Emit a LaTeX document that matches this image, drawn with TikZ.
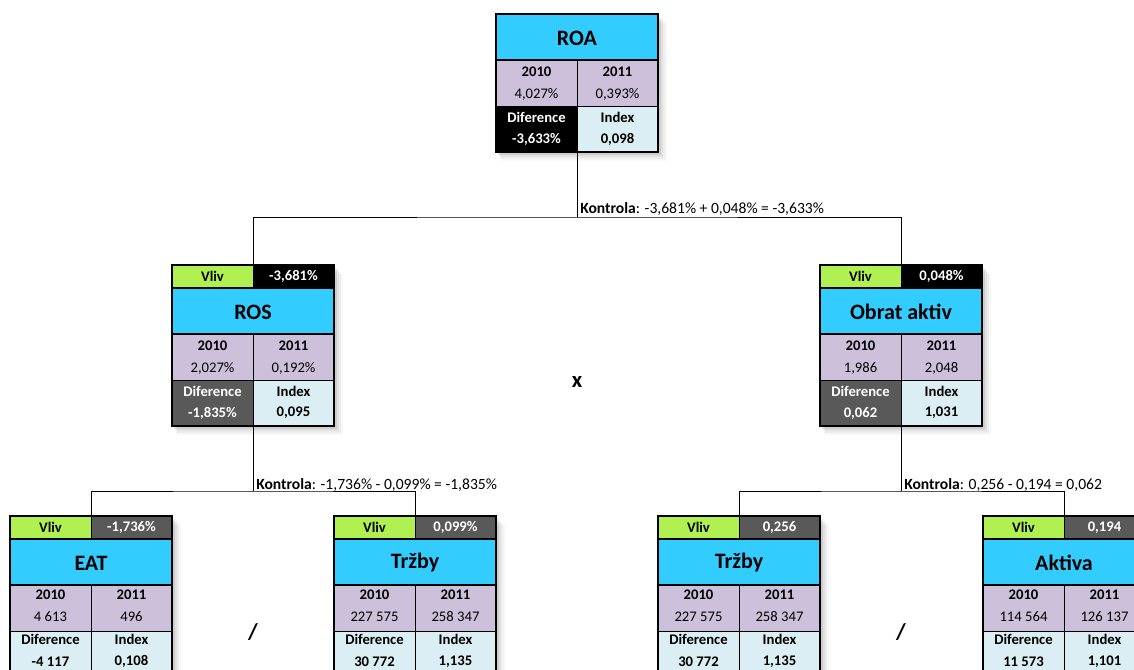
\documentclass[tikz,border=0pt]{standalone}
\usepackage{fontspec}
\setmainfont{Carlito}
\definecolor{titlec}{HTML}{33CCFF}
\definecolor{yearc}{HTML}{CCC0DA}
\definecolor{idxc}{HTML}{DAEEF3}
\definecolor{vlivc}{HTML}{B0F050}
\definecolor{darkc}{HTML}{595959}
\tikzset{
  thinline/.style={line width=0.6pt,black},
  thickline/.style={line width=1.3pt,black},
  outline/.style={line width=1.5pt,black},
  conn/.style={line width=0.7pt,black},
  titletext/.style={font=\fontsize{16.5}{18}\selectfont\bfseries,inner sep=0pt},
  lbl/.style={font=\fontsize{11}{12}\selectfont\bfseries,inner sep=0pt},
  val/.style={font=\fontsize{11}{12}\selectfont,inner sep=0pt},
  kframe/.style={inner sep=0pt,minimum width=121.5pt,minimum height=103.5pt},
  ctrl/.style={font=\fontsize{11.7}{13}\selectfont,inner sep=0pt,anchor=base west},
  sign/.style={font=\fontsize{17}{19}\selectfont\bfseries,inner sep=0pt},
  blackcell/.style={fill=black},
  blackcelltext/.style={text=white},
  darkcell/.style={fill=darkc},
  darkcelltext/.style={text=white},
  lightcell/.style={fill=idxc},
  lightcelltext/.style={text=black},
}
\def\vsh{0}
% shadow: cx, top, bottom
\newcommand\kshadow[3]{%
  \foreach \s/\o in {1/0.10,3/0.08,5/0.06,7/0.04,9/0.03}{%
    \fill[black,opacity=\o] (#1-81+\s*0.5,#2+\s) rectangle (#1+81+\s,#3+\s);}}
% box: name, cx, top, title, v2010, v2011, diff, index, diff style
\newcommand\kbox[9]{%
  \fill[titlec] (#2-81,#3) rectangle (#2+81,#3+46);
  \fill[yearc] (#2-81,#3+46) rectangle (#2+81,#3+92);
  \fill[#9] (#2-81,#3+92) rectangle (#2,#3+138);
  \fill[idxc] (#2,#3+92) rectangle (#2+81,#3+138);
  \draw[thinline] (#2,#3+46) -- (#2,#3+138);
  \draw[thinline] (#2-81,#3+92) -- (#2+81,#3+92);
  \draw[thickline] (#2-81,#3+46) -- (#2+81,#3+46);
  \draw[outline] (#2-81,#3) rectangle (#2+81,#3+138);
  \node[titletext] at (#2,#3+24) {#4};
  \node[lbl] at (#2-40.5,#3+58+\vsh) {2010};
  \node[lbl] at (#2+40.5,#3+58+\vsh) {2011};
  \node[val] at (#2-40.5,#3+80+\vsh) {#5};
  \node[val] at (#2+40.5,#3+80+\vsh) {#6};
  \node[lbl,#9text] at (#2-40.5,#3+103+\vsh) {Diference};
  \node[lbl,#9text] at (#2-40.5,#3+125+\vsh) {#7};
  \node[lbl] at (#2+40.5,#3+103+\vsh) {Index};
  \node[lbl] at (#2+40.5,#3+125+\vsh) {#8};
  \node[kframe] (#1) at (#2,#3+69) {};
}
% vliv row: name, cx, top, value, value style
\newcommand\kvliv[5]{%
  \fill[vlivc] (#2-81,#3) rectangle (#2,#3+23);
  \fill[#5] (#2,#3) rectangle (#2+81,#3+23);
  \draw[thinline] (#2,#3) -- (#2,#3+23);
  \draw[outline] (#2-81,#3) rectangle (#2+81,#3+23);
  \node[lbl] at (#2-40.5,#3+11.5) {Vliv};
  \node[lbl,text=white] at (#2+40.5,#3+11.5) {#4};
  \node[kframe,minimum height=17.25pt] (#1) at (#2,#3+11.5) {};
}
\begin{document}
\begin{tikzpicture}[x=0.75pt,y=-0.75pt]
\useasboundingbox (0,0) rectangle (1134,670);
\clip (0,0) rectangle (1134,670);
% shadows
\kshadow{577}{14}{152}
\kshadow{253}{265}{426}
\kshadow{901}{265}{426}
\kshadow{91}{516}{677}
\kshadow{415}{516}{677}
\kshadow{739}{516}{677}
\kshadow{1064}{516}{677}
% boxes
\kbox{roa}{577}{14}{ROA}{4,027\%}{0,393\%}{-3,633\%}{0,098}{blackcell}
\kvliv{rosv}{253}{265}{-3,681\%}{blackcell}
\kbox{ros}{253}{288}{ROS}{2,027\%}{0,192\%}{-1,835\%}{0,095}{darkcell}
\kvliv{obratv}{901}{265}{0,048\%}{blackcell}
\kbox{obrat}{901}{288}{Obrat aktiv}{1,986}{2,048}{0,062}{1,031}{darkcell}
\def\vsh{-2.5}
\kvliv{eatv}{91}{516}{-1,736\%}{darkcell}
\kbox{eat}{91}{539}{EAT}{4 613}{496}{-4 117}{0,108}{lightcell}
\kvliv{trzbalv}{415}{516}{0,099\%}{darkcell}
\kbox{trzbal}{415}{539}{Tržby}{227 575}{258 347}{30 772}{1,135}{lightcell}
\kvliv{trzbarv}{739}{516}{0,256}{darkcell}
\kbox{trzbar}{739}{539}{Tržby}{227 575}{258 347}{30 772}{1,135}{lightcell}
\kvliv{aktivav}{1064}{516}{0,194}{darkcell}
\kbox{aktiva}{1064}{539}{Aktiva}{114 564}{126 137}{11 573}{1,101}{lightcell}
% connectors
\coordinate (j1) at (577,217);
\coordinate (j2) at (253,491);
\coordinate (j3) at (901,491);
\draw[conn] (roa.south) -- (j1);
\draw[conn] (rosv.north) |- (j1) -| (obratv.north);
\draw[conn] (ros.south) -- (j2);
\draw[conn] (eatv.north) |- (j2) -| (trzbalv.north);
\draw[conn] (obrat.south) -- (j3);
\draw[conn] (trzbarv.north) |- (j3) -| (aktivav.north);
% labels
\node[ctrl] (k1) at (580,214) {\textbf{Kontrola}: -3,681\% + 0,048\% = -3,633\%};
\node[ctrl] (k2) at (256,489) {\textbf{Kontrola}: -1,736\% - 0,099\% = -1,835\%};
\node[ctrl] (k3) at (904,489) {\textbf{Kontrola}: 0,256 - 0,194 = 0,062};
\node[sign] (times) at (577,382) {x};
\node[sign] (div1) at (253,632) {/};
\node[sign] (div2) at (901,632) {/};
\end{tikzpicture}
\end{document}
